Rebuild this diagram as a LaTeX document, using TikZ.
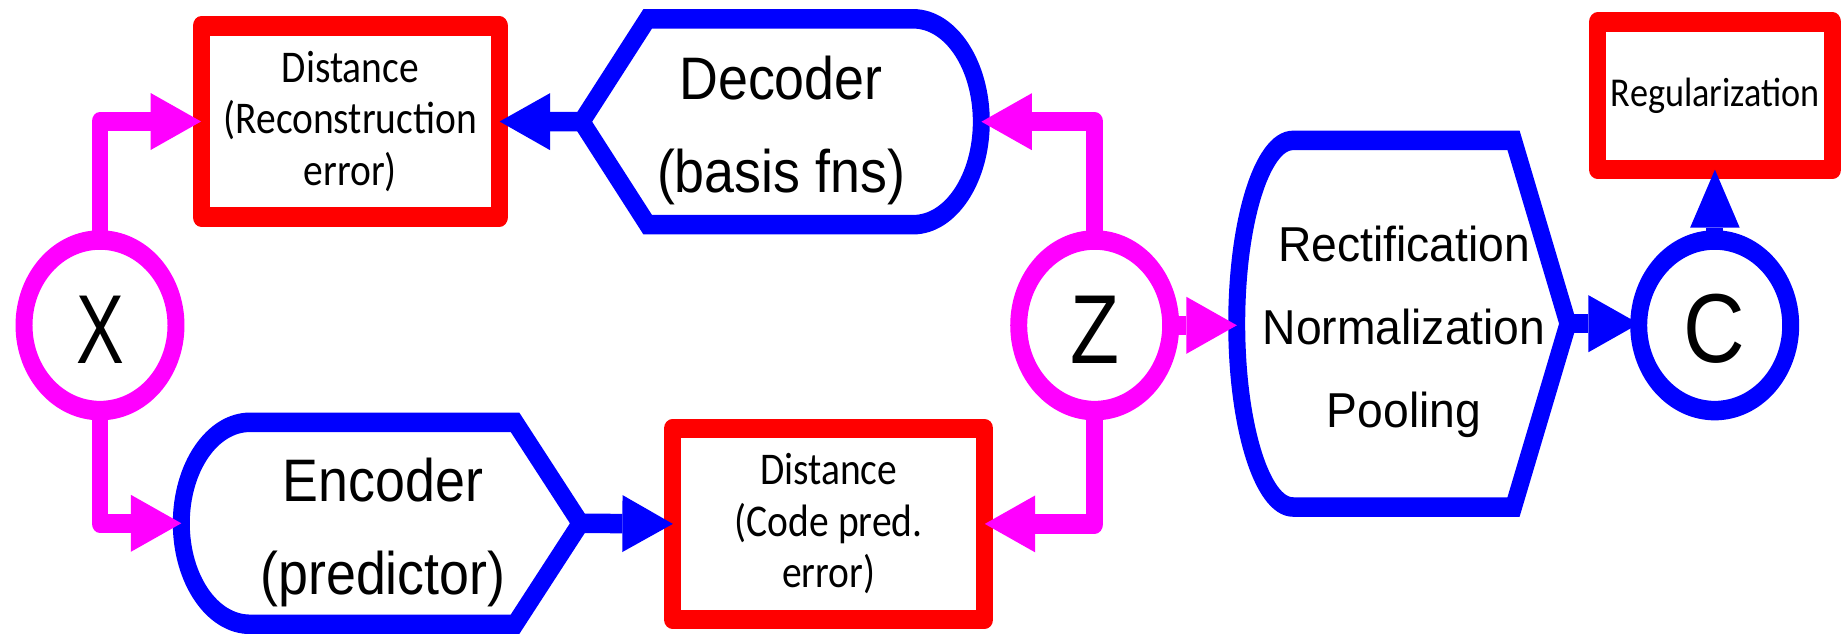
\documentclass[tikz,border=0pt]{standalone}
\usepackage{fontspec}
\setmainfont{Liberation Sans}
\newfontfamily\coderfont[FakeStretch=1.03]{Liberation Sans}
\newfontfamily\stagefont[FakeStretch=1.085]{Liberation Sans}
\newfontfamily\distfont{Carlito}
\newfontfamily\regfont[FakeStretch=1.015]{Carlito}
\newfontfamily\xfont[FakeStretch=0.84]{Liberation Sans}
\newfontfamily\zfont[FakeStretch=0.94]{Liberation Sans}
\newfontfamily\cfont[FakeStretch=1.0]{Liberation Sans}
\usetikzlibrary{arrows.meta,shapes.geometric}
\definecolor{rd}{RGB}{255,0,0}
\definecolor{bl}{RGB}{0,0,255}
\definecolor{mg}{RGB}{255,0,255}
\tikzset{
  thick stroke/.style={line width=19.5pt},
  redbox/.style={rectangle, draw=rd, thick stroke, fill=white, inner sep=0pt,
    outer sep=0pt, line join=round, align=center},
  varnode/.style={ellipse, thick stroke, fill=white, inner sep=0pt, outer sep=0pt,
    minimum width=174.7pt, minimum height=170.6pt, text height=76pt,
    font=\fontsize{98}{98}\selectfont},
  blueshape/.style={draw=bl, thick stroke, fill=white, line join=miter},
  conn/.style={thick stroke, line join=round,
    -{Triangle[length=58pt,width=57pt,line width=0pt]}},
  magconn/.style={conn, draw=mg},
  blueconn/.style={conn, draw=bl},
  codertext/.style={align=center, font=\coderfont\fontsize{60}{92.7}\selectfont},
  stagetext/.style={align=center, font=\stagefont\fontsize{49}{82.8}\selectfont},
  disttext/.style={font=\distfont\fontsize{45.4}{51.4}\selectfont}
}
\begin{document}
\begin{tikzpicture}[x=1pt,y=-1pt]
\path[use as bounding box, fill=white] (0,0) rectangle (1846,634);
% the whole drawing is narrowed horizontally, strokes and lettering included
\begin{scope}[transform canvas={xscale=0.87}, xscale=1/0.87]

  % decoder block (pointed on the left, rounded on the right)
  \draw[blueshape] (647.7,18.8) -- (581.6,121.7) -- (647.7,224.7) -- (913,224.7)
    arc[start angle=90, end angle=-90, x radius=68.3, y radius=102.95] -- cycle;
  \coordinate (dec-w) at (581.6,121.7);
  \coordinate (dec-e) at (981.3,121.7);
  \node[codertext] (dec) at (781,130.8) {Decoder\\(basis fns)};

  % encoder block (rounded on the left, pointed on the right)
  \draw[blueshape] (515,422.3) -- (580.5,523.3) -- (515,624.3) -- (250,624.3)
    arc[start angle=90, end angle=270, x radius=68.7, y radius=101] -- cycle;
  \coordinate (enc-w) at (181.3,523.3);
  \coordinate (enc-e) at (580.5,523.3);
  \node[codertext] (enc) at (383,532.6) {Encoder\\(predictor)};

  % rectification / normalization / pooling block
  \draw[blueshape] (1513.5,140.3) -- (1568,323.7) -- (1513.5,507) -- (1293,507)
    arc[start angle=90, end angle=270, x radius=56.3, y radius=183.3] -- cycle;
  \coordinate (pool-w) at (1236.7,323.7);
  \coordinate (pool-e) at (1568,323.7);
  \node[stagetext] (pool) at (1404,331.8) {Rectification\\Normalization\\Pooling};

  % cost boxes
  \node[redbox, disttext, minimum width=343.1pt, minimum height=191pt]
    (d1) at (350.3,121.5) {Distance\\(Reconstruction\\error)};
  \node[redbox, disttext, minimum width=358.5pt, minimum height=191.2pt]
    (d2) at (828.7,523.9) {Distance\\(Code pred.\\error)};
  \node[redbox, font=\regfont\fontsize{41}{41}\selectfont,
    minimum width=269.8pt, minimum height=147.7pt]
    (reg) at (1715.3,95.8) {Regularization};

  % variables
  \node[varnode, draw=mg] (X) at (100,325.3) {\xfont X};
  \node[varnode, draw=mg] (Z) at (1094.7,325.3) {\zfont Z};
  \node[varnode, draw=bl] (C) at (1714.7,325.3) {\cfont C};

  % connectors
  \draw[magconn] (X.north) |- (d1.west);
  \draw[magconn] (X.south) |- (enc-w);
  \draw[blueconn] (dec-w) -- (d1.east);
  \draw[blueconn] (enc-e) -- (d2.west);
  \draw[magconn] (Z.north) |- (dec-e);
  \draw[magconn] (Z.south) |- (d2.east);
  \draw[magconn] (Z.east) -- (Z.east -| pool-w);
  \draw[blueconn] (pool-e) -- (pool-e -| C.west);
  \draw[blueconn] (C.north) -- (C.north |- reg.south);
\end{scope}
\end{tikzpicture}
\end{document}
